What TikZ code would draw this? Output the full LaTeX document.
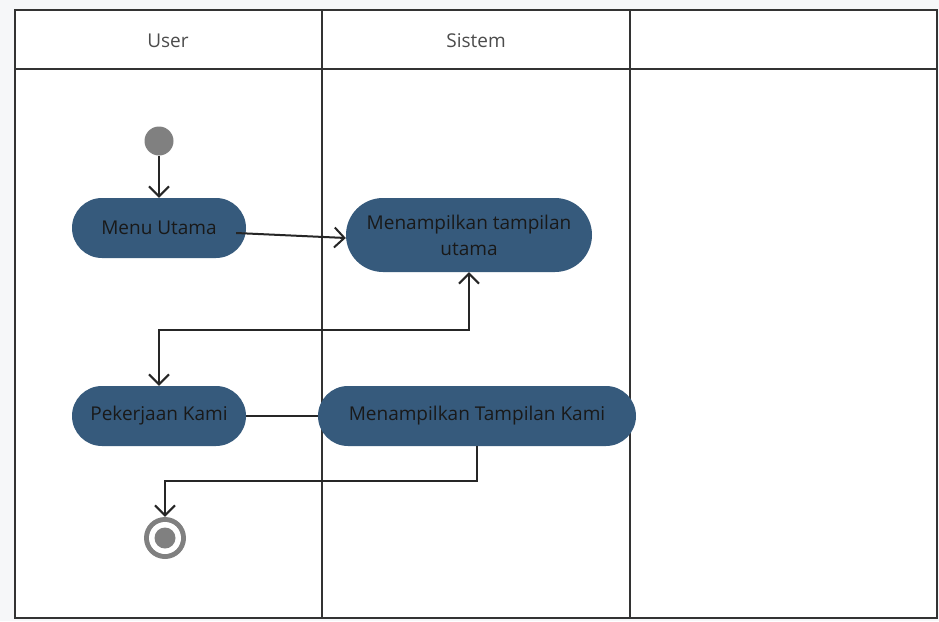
\documentclass[tikz,border=0pt]{standalone}
\usepackage{fontspec}
\setmainfont{Open Sans}
\usetikzlibrary{shapes.misc,arrows.meta,calc}
\definecolor{pillblue}{HTML}{365A7C}
\definecolor{bggray}{HTML}{F6F7F9}
\definecolor{framegray}{HTML}{333333}
\definecolor{dotgray}{HTML}{808080}
\begin{document}
\begin{tikzpicture}[x=1pt,y=-1pt,
  pill/.style={rounded rectangle, fill=pillblue, draw=none, text=black!90, font=\fontsize{19}{26}\selectfont, align=center, inner sep=0pt},
  hdr/.style={font=\fontsize{19}{22}\selectfont, text=black!70},
  frame/.style={draw=framegray, line width=2.2pt},
  conn/.style={draw=black!85, line width=2pt},
  tip/.style={-{Straight Barb[length=10pt,width=20pt,line width=2pt]}},
  bothtip/.style={{Straight Barb[length=10pt,width=20pt,line width=2pt]}-{Straight Barb[length=10pt,width=20pt,line width=2pt]}}]
\useasboundingbox (0,0) rectangle (939,621);
\fill[bggray] (0,0) rectangle (939,621);
% table
\fill[white] (15,10) rectangle (937,618);
\draw[frame] (15,10) rectangle (937,618);
\draw[frame] (15,69) -- (937,69);
\draw[frame] (322,10) -- (322,618);
\draw[frame] (630,10) -- (630,618);
\node[hdr] (h1) at (168,41) {User};
\node[hdr] (h2) at (476,41) {Sistem};
% nodes
\node[circle, fill=dotgray, minimum size=29pt, inner sep=0pt] (start) at (159,141) {};
\node[pill, minimum width=174pt, minimum height=60pt] (mu) at (159,228) {Menu Utama};
\node[pill, minimum width=246pt, minimum height=74pt] (tu) at (469,235) {Menampilkan tampilan\\utama};
\node[pill, minimum width=174pt, minimum height=60pt] (pk) at (159,416) {Pekerjaan Kami};
\node[pill, minimum width=318pt, minimum height=60pt] (tk) at (477,416) {Menampilkan Tampilan Kami};
\node[circle, fill=dotgray, minimum size=42pt, inner sep=0pt] (end) at (165,538) {};
\node[circle, fill=white, minimum size=32pt, inner sep=0pt] (endw) at (end.center) {};
\node[circle, fill=dotgray, minimum size=21pt, inner sep=0pt] (endi) at (end.center) {};
% connectors
\draw[conn, tip] (start) -- (mu.north);
\draw[conn, tip] ($(mu.east)+(-10,5)$) -- ($(tu.west)+(0,3)$);
\draw[conn, bothtip] (pk.north) -- ++(0,-56) -| (tu.south);
\draw[conn] (pk.east) -- (tk.west);
\draw[conn, tip] (tk.south) -- ++(0,35) -| (end.north);
\end{tikzpicture}
\end{document}
